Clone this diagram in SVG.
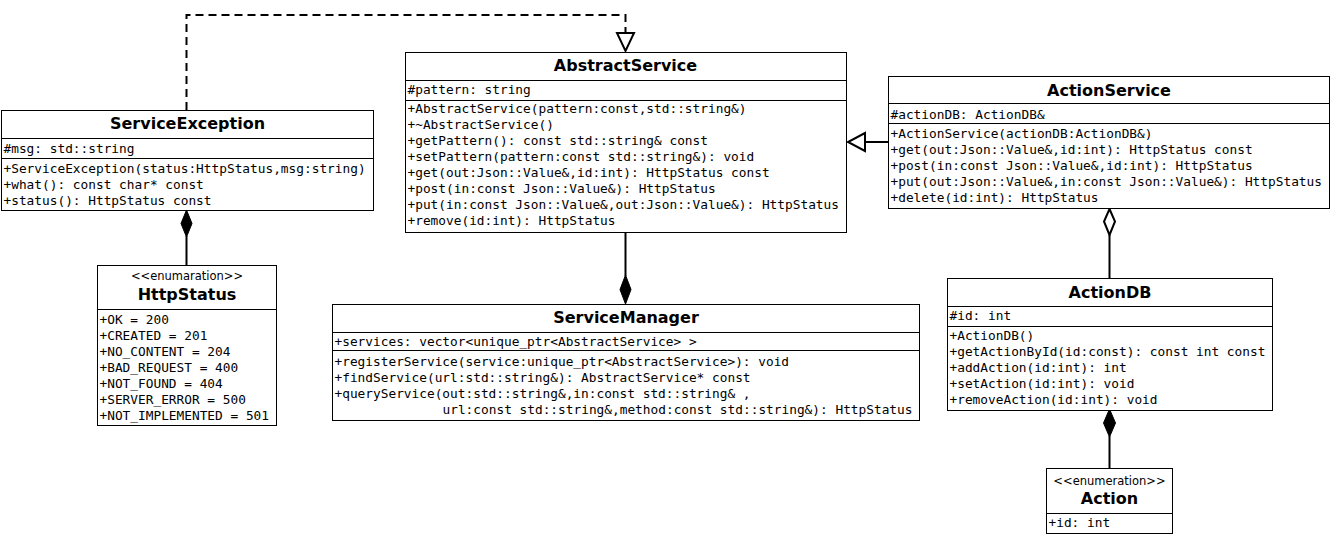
<svg xmlns="http://www.w3.org/2000/svg" width="1331" height="535" viewBox="0 0 1331 535">
<style>
.box{fill:#fff;stroke:#000;stroke-width:1}
.sep{stroke:#000;stroke-width:1}
.t{font-family:"DejaVu Sans","Liberation Sans",sans-serif;font-weight:bold;font-size:16px;text-anchor:middle;fill:#000}
.st{font-family:"DejaVu Sans","Liberation Sans",sans-serif;font-size:11.5px;text-anchor:middle;fill:#000}
.m{font-family:"DejaVu Sans Mono","Liberation Mono",monospace;font-size:12.8px;fill:#000;white-space:pre}
.c{stroke:#000;stroke-width:2;fill:none}
.dash{stroke-dasharray:8 5}
.fill{fill:#000;stroke:#000;stroke-width:1}
.hollow{fill:#fff;stroke:#000;stroke-width:2}
</style>
<rect width="1331" height="535" fill="#fff"/>

<g id="connectors">
  <polyline class="c dash" points="186.5,110 186.5,15 625.5,15 625.5,33"/>
  <polygon class="hollow" points="617,33 634,33 625.5,51"/>
  <line class="c" x1="865" y1="142" x2="888" y2="142"/>
  <polygon class="hollow" points="865,133 865,151 848,142"/>
  <line class="c" x1="625.5" y1="232" x2="625.5" y2="276"/>
  <polygon class="fill" points="625.5,275 631,289.5 625.5,304 620,289.5"/>
  <line class="c" x1="186.5" y1="236" x2="186.5" y2="265"/>
  <polygon class="fill" points="186.5,210 192,223.5 186.5,237 181,223.5"/>
  <line class="c" x1="1109.5" y1="235" x2="1109.5" y2="278"/>
  <polygon class="hollow" points="1109.5,209 1115,221.5 1109.5,235 1104,221.5"/>
  <line class="c" x1="1109.5" y1="436" x2="1109.5" y2="468"/>
  <polygon class="fill" points="1109.5,409 1115.5,423 1109.5,437 1103.5,423"/>
</g>

<g id="ServiceException">
  <rect class="box" x="1.5" y="110.5" width="372" height="100"/>
  <line class="sep" x1="1.5" y1="138.5" x2="373.5" y2="138.5"/>
  <line class="sep" x1="1.5" y1="158.5" x2="373.5" y2="158.5"/>
  <text class="t" x="187.5" y="129">ServiceException</text>
  <text class="m" x="3.5" y="152.5">#msg: std::string</text>
  <text class="m" x="3.5" y="172.5">+ServiceException(status:HttpStatus,msg:string)</text>
  <text class="m" x="3.5" y="188.5">+what(): const char* const</text>
  <text class="m" x="3.5" y="204.5">+status(): HttpStatus const</text>
</g>

<g id="AbstractService">
  <rect class="box" x="405.5" y="52.5" width="441" height="180"/>
  <line class="sep" x1="405.5" y1="80.5" x2="846.5" y2="80.5"/>
  <line class="sep" x1="405.5" y1="100.5" x2="846.5" y2="100.5"/>
  <text class="t" x="625.5" y="71">AbstractService</text>
  <text class="m" x="407.5" y="94">#pattern: string</text>
  <text class="m" x="407.5" y="113">+AbstractService(pattern:const,std::string&amp;)</text>
  <text class="m" x="407.5" y="129">+~AbstractService()</text>
  <text class="m" x="407.5" y="145">+getPattern(): const std::string&amp; const</text>
  <text class="m" x="407.5" y="161">+setPattern(pattern:const std::string&amp;): void</text>
  <text class="m" x="407.5" y="177">+get(out:Json::Value&amp;,id:int): HttpStatus const</text>
  <text class="m" x="407.5" y="193">+post(in:const Json::Value&amp;): HttpStatus</text>
  <text class="m" x="407.5" y="209">+put(in:const Json::Value&amp;,out:Json::Value&amp;): HttpStatus</text>
  <text class="m" x="407.5" y="225">+remove(id:int): HttpStatus</text>
</g>

<g id="ActionService">
  <rect class="box" x="888.5" y="76.5" width="441" height="132"/>
  <line class="sep" x1="888.5" y1="103.5" x2="1329.5" y2="103.5"/>
  <line class="sep" x1="888.5" y1="123.5" x2="1329.5" y2="123.5"/>
  <text class="t" x="1109" y="95.5">ActionService</text>
  <text class="m" x="890.5" y="118.5">#actionDB: ActionDB&amp;</text>
  <text class="m" x="890.5" y="138">+ActionService(actionDB:ActionDB&amp;)</text>
  <text class="m" x="890.5" y="154">+get(out:Json::Value&amp;,id:int): HttpStatus const</text>
  <text class="m" x="890.5" y="170">+post(in:const Json::Value&amp;,id:int): HttpStatus</text>
  <text class="m" x="890.5" y="186">+put(out:Json::Value&amp;,in:const Json::Value&amp;): HttpStatus</text>
  <text class="m" x="890.5" y="202">+delete(id:int): HttpStatus</text>
</g>

<g id="HttpStatus">
  <rect class="box" x="97.5" y="265.5" width="179" height="160"/>
  <line class="sep" x1="97.5" y1="309.5" x2="276.5" y2="309.5"/>
  <text class="st" x="187" y="279.5">&lt;&lt;enumaration&gt;&gt;</text>
  <text class="t" x="187" y="300">HttpStatus</text>
  <text class="m" x="99.5" y="323.5">+OK = 200</text>
  <text class="m" x="99.5" y="339.5">+CREATED = 201</text>
  <text class="m" x="99.5" y="355.5">+NO_CONTENT = 204</text>
  <text class="m" x="99.5" y="371.5">+BAD_REQUEST = 400</text>
  <text class="m" x="99.5" y="387.5">+NOT_FOUND = 404</text>
  <text class="m" x="99.5" y="403.5">+SERVER_ERROR = 500</text>
  <text class="m" x="99.5" y="419.5">+NOT_IMPLEMENTED = 501</text>
</g>

<g id="ServiceManager">
  <rect class="box" x="332.5" y="304.5" width="587" height="116"/>
  <line class="sep" x1="332.5" y1="332.5" x2="919.5" y2="332.5"/>
  <line class="sep" x1="332.5" y1="350.5" x2="919.5" y2="350.5"/>
  <text class="t" x="626" y="323">ServiceManager</text>
  <text class="m" x="334.5" y="346">+services: vector&lt;unique_ptr&lt;AbstractService&gt; &gt;</text>
  <text class="m" x="334.5" y="365.5">+registerService(service:unique_ptr&lt;AbstractService&gt;): void</text>
  <text class="m" x="334.5" y="381.5">+findService(url:std::string&amp;): AbstractService* const</text>
  <text class="m" x="334.5" y="397.5">+queryService(out:std::string&amp;,in:const std::string&amp; ,</text>
  <text class="m" x="442.5" y="413.5">url:const std::string&amp;,method:const std::string&amp;): HttpStatus</text>
</g>

<g id="ActionDB">
  <rect class="box" x="947.5" y="278.5" width="325" height="132"/>
  <line class="sep" x1="947.5" y1="306.5" x2="1272.5" y2="306.5"/>
  <line class="sep" x1="947.5" y1="326.5" x2="1272.5" y2="326.5"/>
  <text class="t" x="1110" y="297.5">ActionDB</text>
  <text class="m" x="949.5" y="319.5">#id: int</text>
  <text class="m" x="949.5" y="339.5">+ActionDB()</text>
  <text class="m" x="949.5" y="355.5">+getActionById(id:const): const int const</text>
  <text class="m" x="949.5" y="371.5">+addAction(id:int): int</text>
  <text class="m" x="949.5" y="387.5">+setAction(id:int): void</text>
  <text class="m" x="949.5" y="403.5">+removeAction(id:int): void</text>
</g>

<g id="Action">
  <rect class="box" x="1046.5" y="468.5" width="126" height="65"/>
  <line class="sep" x1="1046.5" y1="513.5" x2="1172.5" y2="513.5"/>
  <text class="st" x="1109.5" y="485">&lt;&lt;enumeration&gt;&gt;</text>
  <text class="t" x="1109.5" y="504">Action</text>
  <text class="m" x="1048.5" y="526.5">+id: int</text>
</g>
</svg>
